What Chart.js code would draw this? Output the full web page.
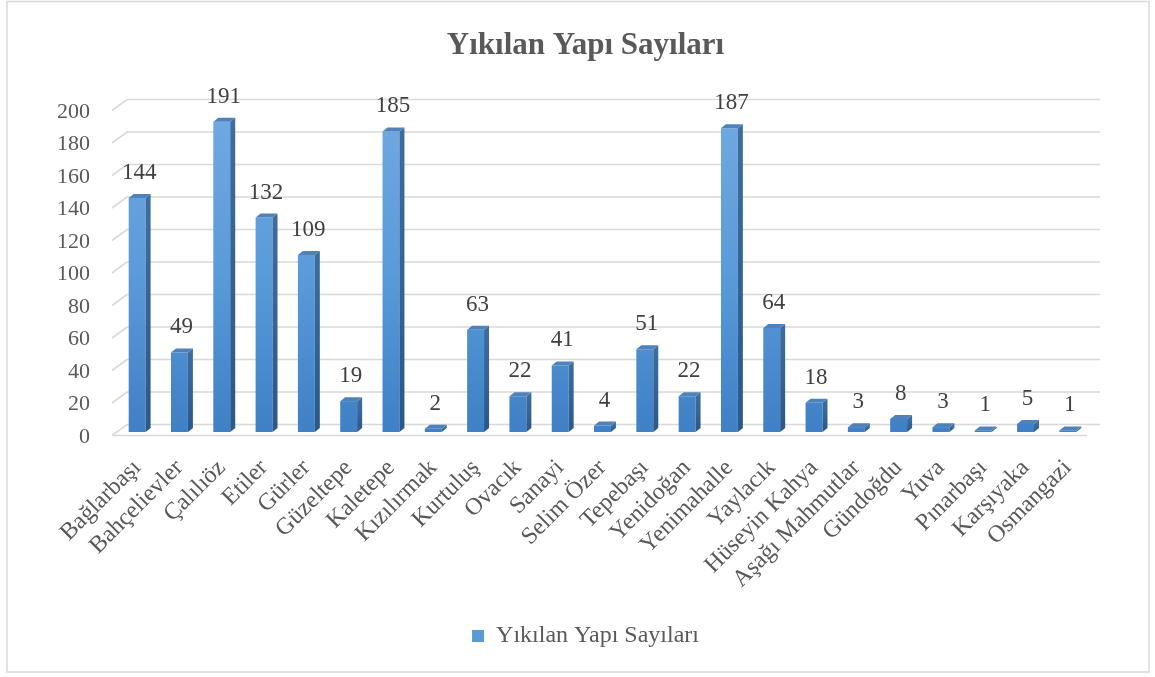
<!DOCTYPE html>
<html><head><meta charset="utf-8">
<script src="https://cdn.jsdelivr.net/npm/chart.js@4.4.1/dist/chart.umd.min.js"></script>
<style>html,body{margin:0;padding:0;background:#fff;overflow:hidden}</style>
</head><body>
<canvas id="c" width="1155" height="677" style="width:1155px;height:677px;display:block"></canvas>
<script>
const chartTitle = 'Yıkılan Yapı Sayıları';
const seriesName = 'Yıkılan Yapı Sayıları';
const categories = ['Bağlarbaşı','Bahçelievler','Çalılıöz','Etiler','Gürler','Güzeltepe','Kaletepe','Kızılırmak','Kurtuluş','Ovacık','Sanayi','Selim Özer','Tepebaşı','Yenidoğan','Yenimahalle','Yaylacık','Hüseyin Kahya','Aşağı Mahmutlar','Gündoğdu','Yuva','Pınarbaşı','Karşıyaka','Osmangazi'];
const values = [144,49,191,132,109,19,185,2,63,22,41,4,51,22,187,64,18,3,8,3,1,5,1];
const yTicks = [0,20,40,60,80,100,120,140,160,180,200];

const SERIF = '"Liberation Serif","Times New Roman",serif';
const TEXT = '#595959';
const DX = 5, DY = -4;

const decor = {
  id: 'decor',
  beforeDraw(chart) {
    const ctx = chart.ctx;
    ctx.save();
    ctx.strokeStyle = '#d9d9d9';
    ctx.lineWidth = 1.5;
    ctx.strokeRect(7, 1.5, 1142, 670.5);
    ctx.restore();
  },
  beforeDatasetsDraw(chart) {
    const {ctx, chartArea, scales} = chart;
    const y = scales.y;
    const xf = chartArea.left - 4, xb = chartArea.left + 11, xr = chartArea.right + 11;
    ctx.save();
    ctx.strokeStyle = '#d9d9d9';
    ctx.lineWidth = 1.6;
    yTicks.forEach(v => {
      const p = y.getPixelForValue(v);
      ctx.beginPath();
      ctx.moveTo(xf, p + 3.5);
      ctx.lineTo(xb, p - 7.5);
      ctx.lineTo(xr, p - 7.5);
      ctx.stroke();
    });
    const p0 = y.getPixelForValue(0);
    ctx.beginPath();
    ctx.moveTo(xf, p0 + 3.5);
    ctx.lineTo(chartArea.right - 2, p0 + 3.5);
    ctx.stroke();
    ctx.restore();
  },
  afterDatasetsDraw(chart) {
    const {ctx} = chart;
    const meta = chart.getDatasetMeta(0);
    ctx.save();
    meta.data.forEach((bar, i) => {
      const w = bar.width, l = bar.x - w / 2, r = bar.x + w / 2, t = bar.y, b = bar.base;
      const gs = ctx.createLinearGradient(0, t, 0, b);
      gs.addColorStop(0, '#3d6d9f');
      gs.addColorStop(1, '#2a5888');
      ctx.fillStyle = gs;
      ctx.beginPath();
      ctx.moveTo(r, t); ctx.lineTo(r + DX, t + DY); ctx.lineTo(r + DX, b + DY); ctx.lineTo(r, b);
      ctx.closePath(); ctx.fill();
      ctx.fillStyle = '#4f82ba';
      ctx.beginPath();
      ctx.moveTo(l, t); ctx.lineTo(l + DX, t + DY); ctx.lineTo(r + DX, t + DY); ctx.lineTo(r, t);
      ctx.closePath(); ctx.fill();
      ctx.fillStyle = '#404040';
      ctx.font = '23px ' + SERIF;
      ctx.textAlign = 'center';
      ctx.textBaseline = 'middle';
      ctx.fillText(String(values[i]), bar.x + 2, t - 25);
    });
    ctx.restore();
  }
};

const ctx = document.getElementById('c').getContext('2d');
new Chart(ctx, {
  type: 'bar',
  data: {
    labels: categories,
    datasets: [{
      label: seriesName,
      data: values,
      barPercentage: 0.4,
      categoryPercentage: 1.0,
      borderWidth: 0,
      backgroundColor(c) {
        const ca = c.chart.chartArea;
        if (!ca) return '#5b9bd5';
        const g = c.chart.ctx.createLinearGradient(0, ca.top, 0, ca.bottom);
        g.addColorStop(0, '#72a9e1');
        g.addColorStop(0.5, '#5a9bd9');
        g.addColorStop(1, '#3f80c6');
        return g;
      }
    }]
  },
  options: {
    responsive: false,
    animation: false,
    layout: { padding: { left: 82, right: 66, top: 0, bottom: 19 } },
    plugins: {
      title: {
        display: true, text: chartTitle, color: TEXT,
        font: { family: SERIF, size: 31, weight: 'bold' },
        padding: { top: 27, bottom: 42.8 }
      },
      legend: {
        display: true, position: 'bottom',
        labels: {
          color: TEXT, font: { family: SERIF, size: 24 }, boxWidth: 12, boxHeight: 12, padding: 10,
          generateLabels: () => [{ text: seriesName, fillStyle: '#5b9bd5', strokeStyle: '#5b9bd5', lineWidth: 0, datasetIndex: 0, fontColor: TEXT }]
        }
      },
      tooltip: { enabled: false }
    },
    scales: {
      x: {
        grid: { display: false, drawTicks: false },
        border: { display: false },
        ticks: { color: TEXT, font: { family: SERIF, size: 24 }, minRotation: 45, maxRotation: 45, autoSkip: false, padding: 22 },
        afterFit(s) { s.height = 182; }
      },
      y: {
        min: 0, max: 200,
        grid: { display: false, drawTicks: false },
        border: { display: false },
        ticks: { stepSize: 20, color: TEXT, font: { family: SERIF, size: 22 }, mirror: true, crossAlign: 'far', padding: -59, labelOffset: 5 },
        afterFit(s) { s.width = 34; }
      }
    }
  },
  plugins: [decor]
});
</script>
</body></html>
